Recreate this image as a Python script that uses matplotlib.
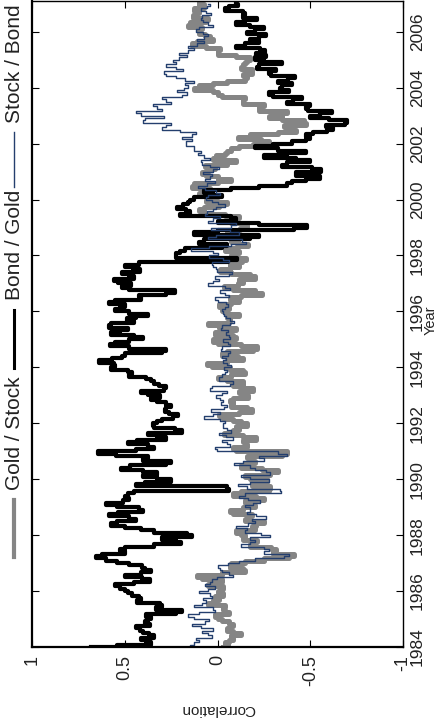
import numpy as np
import matplotlib
matplotlib.use('Agg')
import matplotlib.pyplot as plt
from matplotlib.lines import Line2D

plt.rcParams['font.family'] = ['Liberation Sans', 'DejaVu Sans']

# rolling correlations, monthly samples (Jan 1984 ... Jan 2007)
bond_gold = [
    0.68, 0.40, 0.32, 0.45, 0.38, 0.30, 0.44, 0.36, 0.48, 0.40, 0.33, 0.45,  # 1984
    0.30, 0.42, 0.35, 0.10, 0.28, 0.38, 0.22, 0.40, 0.47, 0.35, 0.50, 0.42,  # 1985
    0.55, 0.45, 0.60, 0.50, 0.40, 0.33, 0.48, 0.52, 0.30, 0.42, 0.36, 0.45,  # 1986
    0.50, 0.58, 0.62, 0.69, 0.55, 0.45, 0.60, 0.40, 0.29, 0.10, 0.35, 0.25,  # 1987
    0.03, 0.30, 0.38, 0.45, 0.55, 0.60, 0.48, 0.40, 0.55, 0.62, 0.45, 0.35,  # 1988
    0.50, 0.58, 0.62, 0.40, 0.55, 0.45, 0.52, 0.38, -0.50, 0.40, 0.48, 0.30, # 1989
    0.20, 0.45, 0.35, 0.30, 0.50, 0.54, 0.40, 0.15, 0.35, 0.45, 0.30, 0.79,  # 1990
    0.50, 0.38, 0.30, 0.45, 0.52, 0.35, 0.20, 0.45, 0.30, 0.08, 0.38, 0.30,  # 1991
    0.40, 0.25, 0.35, 0.13, 0.30, 0.22, 0.35, 0.20, 0.30, 0.25, 0.40, 0.32,  # 1992
    0.30, 0.45, 0.38, 0.20, 0.35, 0.28, 0.40, 0.32, 0.45, 0.50, 0.42, 0.55,  # 1993
    0.60, 0.50, 0.62, 0.66, 0.48, 0.55, 0.45, 0.15, 0.40, 0.55, 0.61, 0.50,  # 1994
    0.45, 0.35, 0.55, 0.60, 0.45, 0.52, 0.65, 0.50, 0.40, 0.58, 0.30, 0.45,  # 1995
    0.50, 0.60, 0.45, 0.55, 0.62, 0.48, 0.35, 0.50, 0.06, 0.40, 0.55, 0.48,  # 1996
    0.45, 0.62, 0.50, 0.40, 0.55, 0.48, 0.36, 0.55, 0.45, 0.40, -0.51, 0.30, # 1997
    0.15, 0.30, 0.10, 0.25, -0.30, 0.20, 0.00, 0.15, -0.50, 0.05, 0.20, -0.20,    # 1998
    -0.62, -0.35, -0.10, 0.10, -0.30, 0.15, 0.25, 0.05, 0.29, 0.15, 0.22, 0.10,   # 1999
    0.20, 0.05, -0.10, 0.15, 0.00, -0.15, -0.30, -0.45, -0.35, -0.60, -0.50, -0.35,  # 2000
    -0.50, -0.62, -0.40, -0.30, -0.45, -0.55, -0.30, -0.20, -0.55, -0.40, -0.25, -0.15,  # 2001
    -0.45, -0.35, -0.60, -0.40, -0.55, -0.48, -0.70, -0.55, -0.62, -0.75, -0.65, -0.55,  # 2002
    -0.45, -0.65, -0.58, -0.40, -0.55, -0.45, -0.30, -0.51, -0.40, -0.20, -0.35, -0.42,  # 2003
    -0.25, -0.45, -0.35, -0.30, -0.46, -0.38, -0.20, -0.35, -0.28, -0.15, -0.30, -0.40,  # 2004
    -0.10, -0.30, -0.22, -0.20, -0.31, -0.15, -0.05, -0.25, -0.20, -0.15, -0.30, -0.22,  # 2005
    -0.10, -0.30, -0.20, -0.15, -0.05, -0.25, -0.18, -0.10, -0.20, -0.08, 0.00, -0.12,   # 2006
    -0.10]

gold_stock = [
    -0.03, -0.08, 0.00, -0.12, -0.05, -0.10, -0.15, -0.02, -0.08, -0.05, -0.12, 0.00,  # 1984
    -0.05, 0.05, -0.02, -0.10, 0.02, -0.08, 0.00, 0.10, -0.05, 0.03, 0.00, -0.06,      # 1985
    0.05, -0.08, 0.02, 0.08, -0.05, 0.00, 0.17, 0.05, -0.10, -0.20, -0.08, -0.05,      # 1986
    -0.10, -0.20, -0.30, -0.47, -0.35, -0.25, -0.38, -0.20, -0.15, -0.25, -0.18, -0.10,  # 1987
    -0.20, -0.05, -0.15, -0.25, -0.12, -0.30, -0.20, -0.10, -0.22, -0.15, -0.02, -0.12,  # 1988
    -0.15, -0.25, -0.10, -0.20, -0.30, -0.12, -0.05, -0.20, -0.35, -0.22, -0.15, -0.28,  # 1989
    -0.25, -0.10, -0.20, -0.37, -0.28, -0.20, -0.05, -0.25, -0.15, -0.22, -0.10, -0.60,  # 1990
    -0.15, -0.05, -0.12, -0.20, -0.10, -0.18, -0.23, -0.05, -0.02, -0.15, -0.08, -0.12,  # 1991
    -0.20, -0.05, -0.12, 0.06, -0.08, -0.15, -0.22, -0.10, -0.05, -0.12, -0.02, -0.15,   # 1992
    -0.18, -0.08, -0.15, -0.23, -0.05, -0.12, -0.15, 0.05, -0.05, -0.10, -0.20, -0.08,   # 1993
    -0.05, 0.11, 0.00, -0.10, -0.17, -0.05, 0.00, -0.10, -0.28, -0.15, -0.10, 0.10,      # 1994
    -0.05, -0.15, -0.02, 0.05, -0.08, -0.12, 0.10, 0.00, -0.12, -0.02, -0.08, -0.15,     # 1995
    0.05, -0.10, -0.02, 0.00, -0.15, -0.08, -0.05, -0.20, -0.28, -0.12, -0.05, -0.02,    # 1996
    -0.20, -0.08, -0.15, -0.25, -0.10, -0.05, 0.02, -0.15, -0.08, -0.05, -0.21, -0.10,   # 1997
    -0.05, -0.15, -0.08, 0.00, -0.21, -0.12, -0.10, -0.05, -0.18, -0.08, -0.02, -0.12,   # 1998
    -0.12, -0.20, -0.10, -0.05, -0.15, -0.08, 0.00, 0.15, 0.05, 0.10, -0.12, 0.02,       # 1999
    0.10, -0.05, 0.05, 0.15, 0.00, 0.08, 0.20, 0.05, -0.05, -0.10, 0.10, 0.02,           # 2000
    0.15, -0.05, 0.08, 0.05, -0.15, -0.05, 0.10, -0.08, 0.00, -0.10, -0.05, -0.18,       # 2001
    -0.20, -0.35, -0.12, -0.10, -0.25, -0.40, -0.45, -0.30, -0.42, -0.53, -0.40, -0.30,  # 2002
    -0.25, -0.45, -0.30, -0.15, -0.30, -0.20, -0.08, -0.20, -0.10, 0.05, -0.05, 0.10,    # 2003
    0.15, 0.05, 0.00, -0.10, -0.20, -0.12, -0.15, -0.22, -0.15, -0.10, -0.18, -0.12,     # 2004
    -0.20, -0.15, -0.05, 0.05, -0.05, 0.02, 0.10, 0.17, 0.05, 0.00, 0.08, 0.05,          # 2005
    0.15, 0.05, 0.12, 0.20, 0.10, 0.02, 0.08, 0.18, 0.05, 0.15, 0.10, 0.05,              # 2006
    0.10]

stock_bond = [
    0.10, 0.20, 0.05, 0.15, 0.08, -0.02, 0.12, 0.05, 0.00, 0.18, 0.10, 0.04,           # 1984
    0.05, 0.20, 0.12, 0.08, -0.05, 0.10, 0.15, 0.02, 0.10, 0.06, 0.00, 0.08,           # 1985
    0.12, -0.02, 0.05, 0.08, 0.00, 0.06, -0.05, -0.12, 0.00, -0.05, 0.02, -0.03,       # 1986
    -0.08, -0.15, -0.25, -0.47, -0.30, -0.20, -0.35, -0.15, -0.10, -0.25, -0.15, -0.20,  # 1987
    -0.37, -0.10, -0.20, -0.12, -0.08, -0.25, -0.15, -0.22, -0.30, -0.12, -0.20, -0.15,  # 1988
    -0.20, -0.10, -0.28, -0.18, -0.15, -0.08, -0.22, -0.47, -0.20, -0.12, -0.10, -0.25,  # 1989
    -0.30, -0.05, -0.20, -0.37, -0.15, -0.25, -0.10, -0.08, -0.20, -0.30, -0.15, -0.60,  # 1990
    -0.05, 0.06, -0.03, -0.10, 0.00, -0.05, -0.12, 0.03, -0.05, -0.10, 0.00, -0.06,    # 1991
    0.00, -0.08, 0.05, 0.10, -0.05, 0.02, 0.05, -0.12, 0.02, -0.06, 0.00, -0.03,       # 1992
    0.05, -0.10, 0.00, 0.08, -0.02, -0.12, -0.05, 0.03, -0.05, 0.00, -0.08, -0.02,     # 1993
    -0.05, -0.10, 0.00, -0.06, -0.03, -0.02, -0.09, -0.04, 0.00, -0.05, -0.08, -0.03,  # 1994
    -0.03, -0.10, -0.02, -0.07, -0.04, 0.00, -0.05, -0.08, -0.10, -0.03, -0.06, -0.01, # 1995
    -0.05, 0.00, -0.08, -0.03, -0.06, 0.05, -0.02, -0.10, 0.02, -0.05, -0.08, 0.00,    # 1996
    0.10, -0.05, 0.03, 0.00, -0.12, -0.04, 0.05, -0.03, 0.08, -0.02, -0.10, 0.04,      # 1997
    0.05, -0.05, 0.10, 0.19, -0.10, -0.05, -0.26, 0.00, 0.10, -0.08, -0.15, 0.02,      # 1998
    0.05, -0.20, 0.00, 0.10, -0.05, 0.02, 0.11, 0.00, 0.05, -0.03, -0.05, 0.04,        # 1999
    0.02, 0.10, 0.00, -0.03, 0.05, 0.08, 0.13, -0.02, 0.05, 0.08, 0.00, 0.06,          # 2000
    0.10, -0.05, 0.03, 0.05, 0.12, 0.06, 0.02, 0.13, 0.08, 0.10, 0.15, 0.10,           # 2001
    0.24, 0.10, 0.18, 0.20, 0.08, 0.15, 0.25, 0.35, 0.20, 0.30, 0.50, 0.28,            # 2002
    0.30, 0.53, 0.35, 0.25, 0.40, 0.30, 0.20, 0.35, 0.25, 0.13, 0.20, 0.24,            # 2003
    0.12, 0.20, 0.15, 0.10, 0.25, 0.20, 0.36, 0.22, 0.15, 0.30, 0.25, 0.20,            # 2004
    0.28, 0.13, 0.20, 0.22, 0.10, 0.15, 0.17, 0.05, 0.10, 0.12, 0.025, 0.08,           # 2005
    0.08, 0.15, 0.05, 0.00, 0.10, 0.06, 0.12, 0.05, 0.02, 0.10, 0.08, 0.03,            # 2006
    0.05]

year0 = 1984
per_year = 12
t = year0 + np.arange(len(bond_gold)) / per_year

corr_ticks = [1, 0.5, 0, -0.5, -1]
corr_labels = ['1', '0.5', '0', '-0.5', '-1']
year_ticks = list(range(1984, 2007, 2))

c_gray = '#858585'
c_black = '#000000'
c_blue = '#243f6e'

W, H = 440, 726
fig = plt.figure(figsize=(W / 100, H / 100), dpi=100)
ax = fig.add_axes([32 / W, 1 - 647 / H, (403 - 32) / W, (647 - 1) / H])

# chart is drawn turned on its side: correlation across, year upward
ax.plot(gold_stock, t, color=c_gray, lw=3.6, drawstyle='steps-mid')
ax.plot(bond_gold, t, color=c_black, lw=3.0, drawstyle='steps-mid')
ax.plot(stock_bond, t, color=c_blue, lw=1.0, drawstyle='steps-mid')

ax.set_xlim(1, -1)
ax.set_ylim(1984, 2007.1)
ax.set_xticks(corr_ticks)
ax.set_xticklabels(corr_labels, rotation=90, fontsize=13, color='#222222')
ax.set_yticks(year_ticks)
ax.set_yticklabels([str(y) for y in year_ticks], rotation=90, va='center',
                   fontsize=12.5, color='#222222')
ax.tick_params(direction='in', length=5, width=0.8, top=True, right=True,
               left=True, bottom=True, labelleft=False, labelright=True)
ax.tick_params(axis='y', pad=5)
ax.tick_params(axis='x', pad=6)
for s in ['top', 'right']:
    ax.spines[s].set_linewidth(1.0)
for s in ['left', 'bottom']:
    ax.spines[s].set_linewidth(1.6)

fig.text(218 / W, 1 - 709 / H, 'Correlation', rotation=180, ha='center',
         va='center', fontsize=11, color='#222222')
fig.text(431 / W, 1 - 320 / H, 'Year', rotation=90, ha='center',
         va='center', fontsize=10.5, color='#222222')

# legend (turned like the chart)
lx = 14
items = [(c_gray, 3.0, 'Gold / Stock', 557, 500, 490),
         (c_black, 2.2, 'Bond / Gold', 368, 310, 300),
         (c_blue, 1.0, 'Stock / Bond', 187, 132, 123)]
for col, lw, lab, y0, y1, ytxt in items:
    fig.add_artist(Line2D([lx / W, lx / W], [1 - y0 / H, 1 - y1 / H],
                          color=col, lw=lw, transform=fig.transFigure))
    fig.text(lx / W, 1 - ytxt / H, lab, rotation=90, rotation_mode='anchor',
             ha='left', va='center', fontsize=15, color='#222222')

fig.savefig('out.png', dpi=100)
